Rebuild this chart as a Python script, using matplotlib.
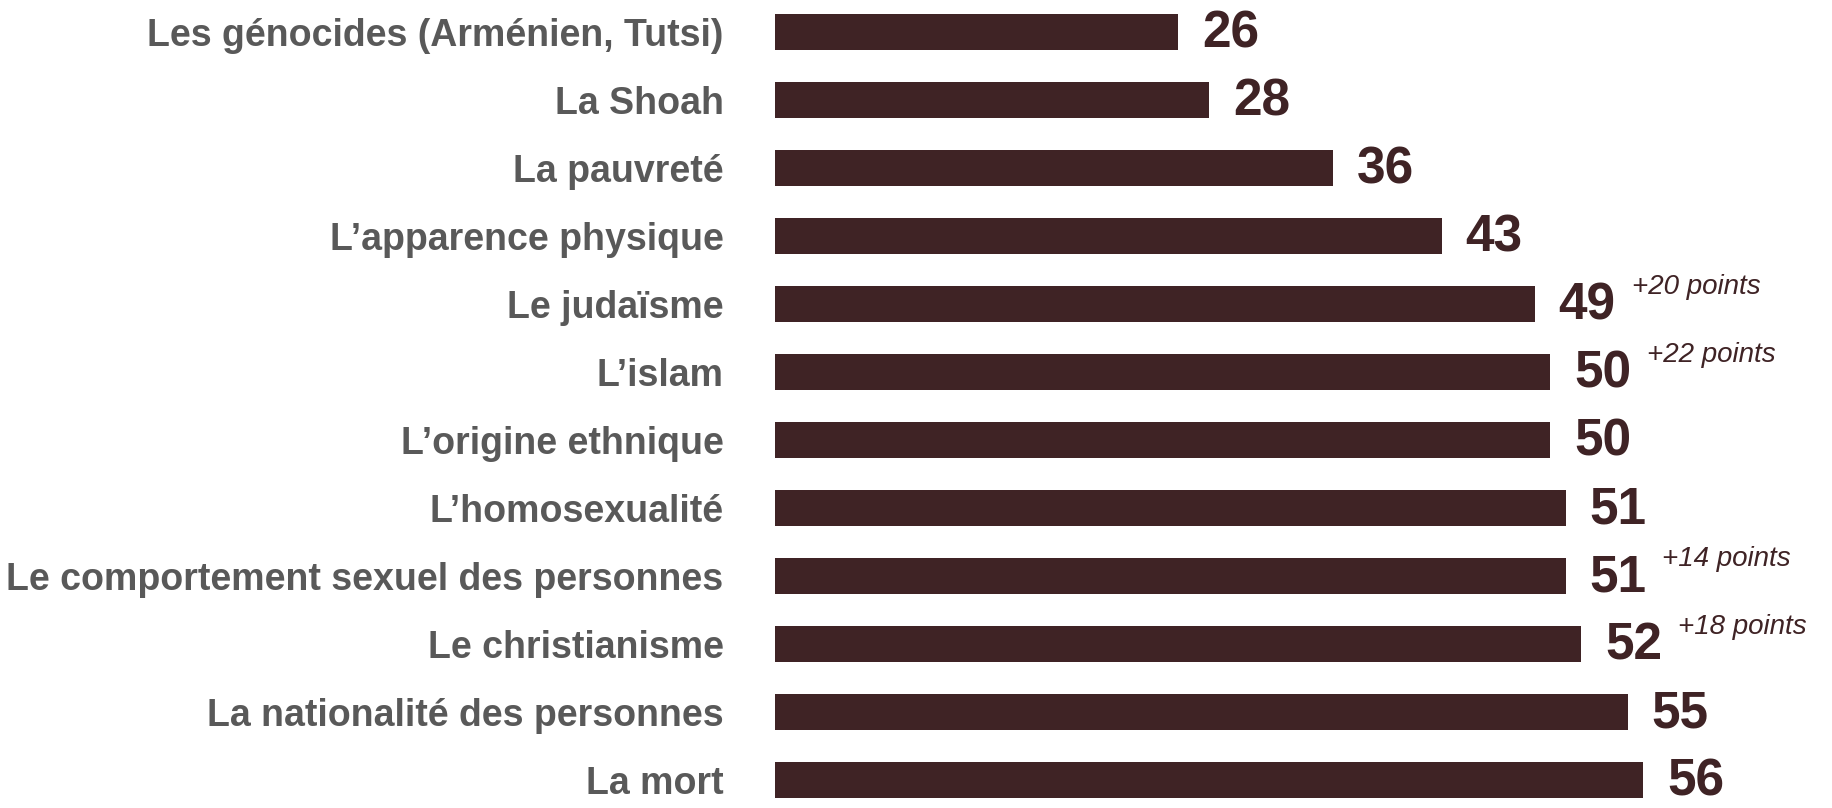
import matplotlib.pyplot as plt

# ---------------------------------------------------------------------------
# Data
# ---------------------------------------------------------------------------

labels = [
    "Les génocides (Arménien, Tutsi)",
    "La Shoah",
    "La pauvreté",
    "L’apparence physique",
    "Le judaïsme",
    "L’islam",
    "L’origine ethnique",
    "L’homosexualité",
    "Le comportement sexuel des personnes",
    "Le christianisme",
    "La nationalité des personnes",
    "La mort",
]
values = [26, 28, 36, 43, 49, 50, 50, 51, 51, 52, 55, 56]
deltas = {
    "Le judaïsme": "+20 points",
    "L’islam": "+22 points",
    "Le comportement sexuel des personnes": "+14 points",
    "Le christianisme": "+18 points",
}

BAR_COLOR = "#3f2325"
LABEL_COLOR = "#595959"

# ---------------------------------------------------------------------------
# Chart
# ---------------------------------------------------------------------------

plt.rcParams["font.family"] = ["Liberation Sans", "DejaVu Sans"]

fig = plt.figure(figsize=(18.32, 8.08), dpi=100)
ax = fig.add_axes([775 / 1832, 0, 1 - 775 / 1832, 1])

pos = list(range(len(labels)))
ax.barh(pos, values, height=0.53, color=BAR_COLOR)

ax.set_xlim(0, 1057 / 15.5)
ax.set_ylim(11 + 28 / 68, -32 / 68)

ax.set_yticks(pos)
ax.set_yticklabels(labels, fontsize=27, fontweight="bold", color=LABEL_COLOR)
ax.tick_params(axis="y", length=0, pad=37)
ax.set_xticks([])
for side in ax.spines.values():
    side.set_visible(False)

for i, (lab, v) in enumerate(zip(labels, values)):
    ax.annotate(str(v), (v, i), xytext=(24, -2), textcoords="offset pixels",
                ha="left", va="center", fontsize=37, fontweight="bold",
                color=BAR_COLOR)
    if lab in deltas:
        ax.annotate(deltas[lab], (v, i), xytext=(97, 10), textcoords="offset pixels",
                    ha="left", va="baseline", fontsize=20, fontstyle="italic",
                    color=BAR_COLOR)

fig.savefig("out.png", dpi=100)
